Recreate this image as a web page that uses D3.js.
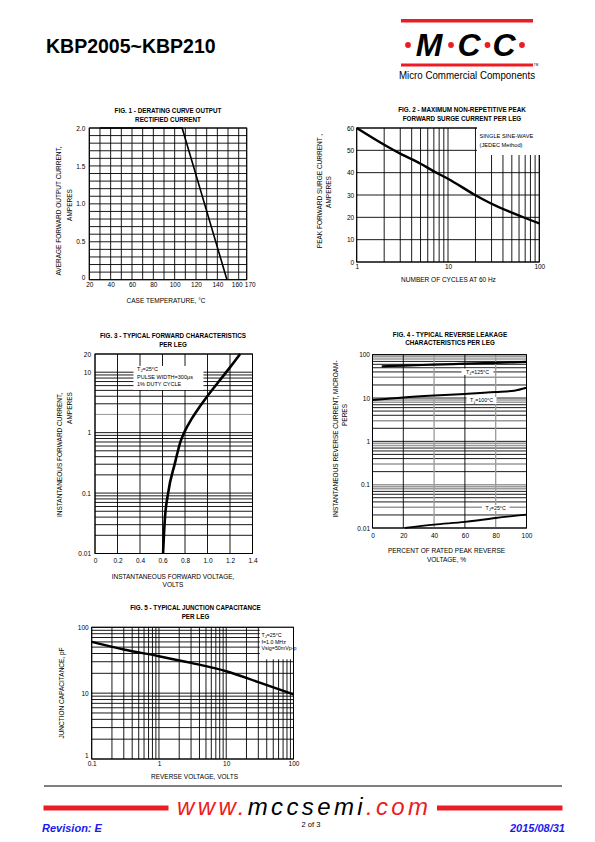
<!DOCTYPE html>
<html><head><meta charset="utf-8">
<script src="https://cdn.jsdelivr.net/npm/d3@7"></script>
<style>body{margin:0;background:#fff}svg{display:block}</style>
</head><body><script>
// ---------------- DATA ----------------
const fig1Temp=[30,107,149];
const fig1Current=[2.0,2.0,0];
const fig1XTicks=[20,40,60,80,100,120,140,160,170];
const fig1YTicks=[0,0.5,1.0,1.5,2.0];
const fig1YLabels=["0","0.5","1.0","1.5","2.0"];

const fig2Cycles=[1,2,3,5,7,10,20,30,50,70,100];
const fig2Surge=[60,52.5,48.5,44,40.6,37.3,29.9,26.1,22.1,19.7,17.3];
const fig2XTicks=[1,10,100];
const fig2YTicks=[0,10,20,30,40,50,60];

const fig3Volt=[0.605,0.62,0.65,0.71,0.76,0.80,0.86,0.93,1.0,1.1,1.2,1.29];
const fig3Amp=[0.01,0.035,0.1,0.31,0.71,1.07,1.7,2.67,4.05,7.0,12,20];
const fig3XTicks=[0,0.2,0.4,0.6,0.8,1.0,1.2,1.4];
const fig3YTicks=[0.01,0.1,1,10,20];

const fig4Pct125=[6,20,40,60,80,100];
const fig4Cur125=[54,56,59,62,65,68];
const fig4Pct100=[0,20,40,60,80,92,100];
const fig4Cur100=[9.0,10.3,11.4,12.4,13.7,14.8,17.3];
const fig4Pct25=[21,40,60,80,100];
const fig4Cur25=[0.0101,0.012,0.0138,0.017,0.0203];
const fig4XTicks=[0,20,40,60,80,100];
const fig4YTicks=[0.01,0.1,1,10,100];

const fig5Volt=[0.1,0.3,1,3,10,30,100];
const fig5Cap=[60,46,36.4,28.8,21.5,14.7,9.6];
const fig5XTicks=[0.1,1,10,100];
const fig5YTicks=[1,10,100];

// ---------------- SETUP ----------------
const F="'Liberation Sans', Arial, Helvetica, sans-serif";
const svg=d3.select("body").append("svg").attr("width",595).attr("height",842);

function txt(g,x,y,s,o={}){
  const t=g.append("text").attr("x",x).attr("y",y).text(s)
    .attr("font-size",o.size||6.5).attr("font-family",F)
    .attr("text-anchor",o.anchor||"middle").attr("fill",o.fill||"#000");
  if(o.bold) t.attr("font-weight","bold");
  if(o.italic) t.attr("font-style","italic");
  if(o.rotate) t.attr("transform",`rotate(-90,${x},${y})`);
  if(o.len) t.attr("textLength",o.len).attr("lengthAdjust",o.adj||"spacingAndGlyphs");
  return t;
}
function tjText(g,x,y,rest,size,anchor){
  const t=g.append("text").attr("x",x).attr("y",y).attr("font-size",size)
    .attr("font-family",F).attr("text-anchor",anchor||"start");
  t.append("tspan").text("T");
  t.append("tspan").text("J").attr("font-size",size*0.75).attr("dy",size*0.25);
  t.append("tspan").text(rest).attr("dy",-size*0.25);
  return t;
}
function grid(g,x,y,xs,ys,xCol,yCol,xW,yW){
  const [y0,y1]=y.range();
  g.append("g").selectAll("line").data(ys).join("line")
    .attr("x1",x.range()[0]).attr("x2",x.range()[x.range().length-1]).attr("y1",d=>y(d)).attr("y2",d=>y(d))
    .attr("stroke",d=>yCol?yCol(d):"#000").attr("stroke-width",d=>yW?yW(d):0.9);
  g.append("g").selectAll("line").data(xs).join("line")
    .attr("y1",y0).attr("y2",y1).attr("x1",d=>x(d)).attr("x2",d=>x(d))
    .attr("stroke",d=>xCol?xCol(d):"#000").attr("stroke-width",d=>xW?xW(d):0.9);
}
function frame(g,x,y){
  const [x0,x1]=[x.range()[0],x.range()[x.range().length-1]],[y0,y1]=y.range();
  g.append("rect").attr("x",x0).attr("y",y1).attr("width",x1-x0).attr("height",y0-y1)
    .attr("fill","none").attr("stroke","#000").attr("stroke-width",1);
}
function axes(g,x,y,xt,xf,yt,yf,xpad,ypad){
  const ax=g.append("g").attr("transform",`translate(0,${y.range()[0]})`)
    .call(d3.axisBottom(x).tickValues(xt).tickFormat(xf).tickSize(0).tickPadding(xpad));
  ax.select(".domain").remove();
  ax.attr("font-size",6.5).attr("font-family",F);
  ax.selectAll("text").attr("fill","#000");
  const ay=g.append("g").attr("transform",`translate(${x.range()[0]},0)`)
    .call(d3.axisLeft(y).tickValues(yt).tickFormat(yf).tickSize(0).tickPadding(ypad));
  ay.select(".domain").remove();
  ay.attr("font-size",6.5).attr("font-family",F);
  ay.selectAll("text").attr("fill","#000");
  return [ax,ay];
}
function curve(g,xs,ys,x,y,w,c){
  const pts=xs.map((v,i)=>[v,ys[i]]);
  g.append("path").datum(pts)
    .attr("d",d3.line().x(d=>x(d[0])).y(d=>y(d[1])).curve(c||d3.curveMonotoneX))
    .attr("fill","none").attr("stroke","#000").attr("stroke-width",w).attr("stroke-linejoin","round");
}
function whiteBox(g,x0,y0,x1,y1){
  g.append("rect").attr("x",x0).attr("y",y0).attr("width",x1-x0).attr("height",y1-y0).attr("fill","#fff");
}
const fmt=d=>String(d);

// ---------------- HEADER ----------------
const hdr=svg.append("g");
txt(hdr,46,53,"KBP2005~KBP210",{size:19.5,bold:true,anchor:"start"});
const RED="#ec1c24";
hdr.append("rect").attr("x",401).attr("y",19).attr("width",132).attr("height",3.5).attr("fill",RED);
hdr.append("rect").attr("x",401).attr("y",63.5).attr("width",132).attr("height",3).attr("fill",RED);
[["M",429],["C",469],["C",504]].forEach(([s,cx])=>txt(hdr,cx,56,s,{size:32,bold:true,italic:true}));
[408,451,487.5,522].forEach(cx=>hdr.append("circle").attr("cx",cx).attr("cy",45).attr("r",2.9).attr("fill",RED));
txt(hdr,536,66,"TM",{size:3});
txt(hdr,399,78.5,"Micro Commercial Components",{size:11,anchor:"start",len:136});

// ---------------- FIG 1 ----------------
{
  const g=svg.append("g");
  const x=d3.scaleLinear().domain([20,160,170]).range([89.3,238.7,246.7]);
  const y=d3.scaleLinear().domain([0,2]).range([279.7,128]);
  grid(g,x,y,d3.range(20,171,10),d3.range(0,20.5,1).map(v=>v/10));
  frame(g,x,y);
  const [ax,ay]=axes(g,x,y,fig1XTicks,fmt,fig1YTicks,(d,i)=>fig1YLabels[i],3,4);
  ax.selectAll(".tick").filter(d=>d===160).select("text").attr("dx",-2);
  ax.selectAll(".tick").filter(d=>d===170).select("text").attr("dx",3);
  ay.selectAll(".tick").filter(d=>d===0).select("text").attr("dy","-0.1em");
  curve(g,fig1Temp,fig1Current,x,y,1.6,d3.curveLinear);
  txt(g,168,112.5,"FIG. 1 - DERATING CURVE OUTPUT",{size:6.3,bold:true});
  txt(g,168,121.5,"RECTIFIED CURRENT",{size:6.3,bold:true});
  txt(g,166,303,"CASE TEMPERATURE, °C",{size:6.5});
  txt(g,61,211,"AVERAGE FORWARD OUTPUT CURRENT,",{size:6.5,rotate:true});
  txt(g,72,205,"AMPERES",{size:6.5,rotate:true});
}

// ---------------- FIG 2 ----------------
{
  const g=svg.append("g");
  const x=d3.scaleLog().domain([1,100]).range([356.7,539.3]);
  const y=d3.scaleLinear().domain([0,60]).range([262,128]);
  grid(g,x,y,x.ticks(),fig2YTicks);
  frame(g,x,y);
  whiteBox(g,477,127,540.5,155);
  axes(g,x,y,fig2XTicks,fmt,fig2YTicks,fmt,2.5,2.5);
  curve(g,fig2Cycles,fig2Surge,x,y,2.4);
  txt(g,479.5,138.3,"SINGLE SINE-WAVE",{size:5.7,anchor:"start"});
  txt(g,479.5,147.3,"(JEDEC Method)",{size:5.7,anchor:"start"});
  txt(g,462,112,"FIG. 2 - MAXIMUM NON-REPETITIVE PEAK",{size:6.3,bold:true});
  txt(g,462,121,"FORWARD SURGE CURRENT PER LEG",{size:6.3,bold:true});
  txt(g,448.5,281.5,"NUMBER OF CYCLES AT 60 Hz",{size:6.5});
  txt(g,322,191,"PEAK FORWARD SURGE CURRENT ,",{size:6.5,rotate:true});
  txt(g,331,192,"AMPERES",{size:6.5,rotate:true});
}

// ---------------- FIG 3 ----------------
{
  const g=svg.append("g");
  const x=d3.scaleLinear().domain([0,1.4]).range([95,252.5]);
  const y=d3.scaleLog().domain([0.01,20]).range([553.5,354]);
  grid(g,x,y,fig3XTicks,y.ticks(),null,d=>Math.abs(d-2)<1e-9?"#8a8a8a":"#000");
  frame(g,x,y);
  whiteBox(g,133.5,366,203.5,390);
  axes(g,x,y,fig3XTicks,d=>d===0?"0":d.toFixed(1),fig3YTicks,fmt,5,4);
  curve(g,fig3Volt,fig3Amp,x,y,2.6);
  tjText(g,137,370.5,"=25°C",5.5);
  txt(g,137,378.5,"PULSE WIDTH=300µs",{size:5.5,anchor:"start"});
  txt(g,137,386,"1% DUTY CYCLE",{size:5.5,anchor:"start"});
  txt(g,173,337.5,"FIG. 3 - TYPICAL FORWARD CHARACTERISTICS",{size:6.3,bold:true});
  txt(g,173,346.5,"PER LEG",{size:6.3,bold:true});
  txt(g,173,578.5,"INSTANTANEOUS FORWARD VOLTAGE,",{size:6.5});
  txt(g,173,586.5,"VOLTS",{size:6.5});
  txt(g,62,455,"INSTANTANEOUS FORWARD CURRENT,",{size:6.5,rotate:true});
  txt(g,72,408,"AMPERES",{size:6.5,rotate:true});
}

// ---------------- FIG 4 ----------------
{
  const g=svg.append("g");
  const x=d3.scaleLinear().domain([0,100]).range([372.5,526.5]);
  const y=d3.scaleLog().domain([0.01,100]).range([528,354.7]);
  const mult=d=>Math.round(d/Math.pow(10,Math.floor(Math.log10(d)+1e-9)));
  const greyY=d=>[3,8,9].includes(mult(d))||Math.abs(d-0.1)<1e-9;
  grid(g,x,y,fig4XTicks,y.ticks(),
       d=>(d===40||d===80)?"#9a9a9a":"#000",
       d=>greyY(d)?"#9a9a9a":"#000",
       d=>(d===40||d===80)?1.3:0.9,
       d=>greyY(d)?1.5:0.9);
  frame(g,x,y);
  axes(g,x,y,fig4XTicks,fmt,fig4YTicks,fmt,5.5,2.5);
  curve(g,fig4Pct125,fig4Cur125,x,y,2.2);
  curve(g,fig4Pct100,fig4Cur100,x,y,2.0);
  curve(g,fig4Pct25,fig4Cur25,x,y,1.8);
  whiteBox(g,461.5,368.5,493.5,375);
  whiteBox(g,466.5,397,496.5,404);
  whiteBox(g,482,505,509.5,511);
  tjText(g,477.5,373.7,"=125°C",5.3,"middle");
  tjText(g,481.5,402.3,"=100°C",5.3,"middle");
  tjText(g,495.7,509.8,"=25°C",5.3,"middle");
  txt(g,450,336.5,"FIG. 4 - TYPICAL REVERSE LEAKAGE",{size:6.3,bold:true});
  txt(g,450,345,"CHARACTERISTICS PER LEG",{size:6.3,bold:true});
  txt(g,446.5,552.5,"PERCENT OF RATED PEAK REVERSE",{size:6.5});
  txt(g,446.5,561.5,"VOLTAGE, %",{size:6.5});
  txt(g,338,439,"INSTANTANEOUS REVERSE CURRENT, MICROAM-",{size:6.5,rotate:true});
  txt(g,347,415,"PERES",{size:6.5,rotate:true});
}

// ---------------- FIG 5 ----------------
{
  const g=svg.append("g");
  const x=d3.scaleLog().domain([0.1,100]).range([91.7,293.5]);
  const y=d3.scaleLog().domain([1,100]).range([759,627.3]);
  grid(g,x,y,x.ticks(),y.ticks());
  whiteBox(g,259.8,627.3,293.5,659.3);
  frame(g,x,y);
  const [ax,ay]=axes(g,x,y,fig5XTicks,fmt,fig5YTicks,fmt,2.5,3);
  ay.selectAll(".tick").filter(d=>d===1).select("text").attr("dy","-0.2em");
  curve(g,fig5Volt,fig5Cap,x,y,2.4);
  tjText(g,261.5,637,"=25°C",5.3);
  txt(g,261.5,643.7,"f=1.0 MHz",{size:5.3,anchor:"start"});
  txt(g,261.5,650.3,"Vsig=50mVp-p",{size:5.3,anchor:"start"});
  txt(g,195.5,609.5,"FIG. 5 - TYPICAL JUNCTION CAPACITANCE",{size:6.3,bold:true});
  txt(g,195.5,618.5,"PER LEG",{size:6.3,bold:true});
  txt(g,194.5,778.5,"REVERSE VOLTAGE, VOLTS",{size:6.5});
  txt(g,64,693,"JUNCTION CAPACITANCE, pF",{size:6.5,rotate:true});
}

// ---------------- FOOTER ----------------
{
  const g=svg.append("g");
  g.append("line").attr("x1",44).attr("x2",562).attr("y1",786).attr("y2",786).attr("stroke","#000").attr("stroke-width",1);
  g.append("rect").attr("x",43.5).attr("y",805.5).attr("width",125).attr("height",5).attr("fill",RED);
  g.append("rect").attr("x",437).attr("y",805.5).attr("width",125.5).attr("height",5).attr("fill",RED);
  const t=g.append("text").attr("x",177).attr("y",815).attr("font-size",24).attr("font-family",F)
    .attr("font-style","italic").attr("textLength",251).attr("lengthAdjust","spacing");
  t.append("tspan").text("www.").attr("fill",RED);
  t.append("tspan").text("mccsemi").attr("fill","#000");
  t.append("tspan").text(".com").attr("fill",RED);
  txt(g,311,826.5,"2 of 3",{size:7.5});
  txt(g,42,832,"Revision: E",{size:11,bold:true,italic:true,anchor:"start",fill:"#1a1aee"});
  txt(g,565,832,"2015/08/31",{size:11,bold:true,italic:true,anchor:"end",fill:"#1a1aee"});
}
</script></body></html>
